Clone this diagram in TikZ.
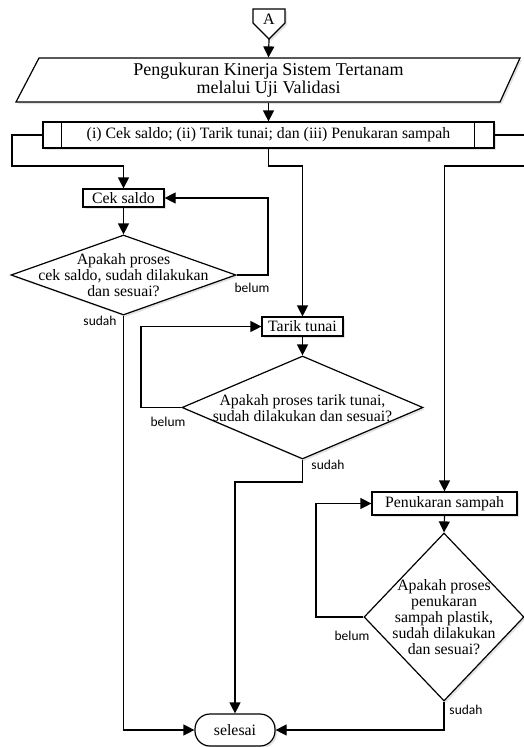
\documentclass[tikz,border=0pt]{standalone}
\usepackage{fontspec}
\setmainfont{Liberation Serif}
\newfontfamily\labfont{Carlito}
\usetikzlibrary{shapes.geometric,arrows.meta,shadows}
\begin{document}
\begin{tikzpicture}[x=1pt,y=-1pt,
  line width=1.2pt,
  shad/.style={drop shadow={shadow xshift=2pt,shadow yshift=-2pt,fill=black!18,opacity=0.6}},
  box/.style={draw,fill=white,shad,inner sep=1pt,font=\fontsize{15.8}{18}\selectfont},
  dia/.style={draw,fill=white,shad,diamond,inner sep=0pt},
  dtext/.style={align=center,inner sep=0pt,font=\fontsize{15.8}{16}\selectfont},
  lab/.style={font=\labfont\fontsize{13.5}{14}\selectfont,inner sep=0pt},
  arr/.style={-{Triangle[length=11pt,width=11pt]}}]
\useasboundingbox (0,0) rectangle (524,747);

% off-page connector A
\draw[fill=white,shad] (253,9) -- (285,9) -- (285,23) -- (269,39) -- (253,23) -- cycle;
\node[font=\fontsize{16}{18}\selectfont,inner sep=0pt] (A) at (269,19) {A};
\coordinate (Atip) at (269,39);

% parallelogram
\draw[fill=white,shad] (39,58) -- (520,58) -- (500,102) -- (16,102) -- cycle;
\node[align=center,minimum width=440,minimum height=44,inner sep=0pt,
      font=\fontsize{18}{18}\selectfont] (P) at (268.5,80)
  {Pengukuran Kinerja Sistem Tertanam\\melalui Uji Validasi};

% predefined process
\node[box,minimum width=451,minimum height=26] (pp) at (268.5,135)
  {(i) Cek saldo; (ii) Tarik tunai; dan (iii) Penukaran sampah};
\draw ([xshift=19pt]pp.north west) -- ([xshift=19pt]pp.south west);
\draw ([xshift=-20pt]pp.north east) -- ([xshift=-20pt]pp.south east);

% cek saldo
\node[box,minimum width=81,minimum height=18] (cek) at (123.5,198) {Cek saldo};
\node[dia,minimum width=225,minimum height=80] (d1) at (123.5,275) {};
\node[dtext] (d1t) at (123.5,275) {Apakah proses\\cek saldo, sudah dilakukan\\dan sesuai?};

% tarik tunai
\node[box,minimum width=81,minimum height=19] (tarik) at (302.5,326.5) {Tarik tunai};
\node[dia,minimum width=241,minimum height=103] (d2) at (302.5,407.5) {};
\node[dtext] (d2t) at (302.5,408) {Apakah proses tarik tunai,\\sudah dilakukan dan sesuai?};

% penukaran sampah
\node[box,minimum width=145,minimum height=23] (pen) at (444.5,503.5) {Penukaran sampah};
\node[dia,minimum width=160,minimum height=168] (d3) at (444,617) {};
\node[dtext] (d3t) at (444,617.5) {Apakah proses\\penukaran\\sampah plastik,\\sudah dilakukan\\dan sesuai?};

% selesai
\node[box,rounded corners=15pt,minimum width=80,minimum height=32] (sel) at (235,730) {selesai};

% connectors
\draw[arr] (Atip) -- (P.north);
\draw[arr] (P.south) -- (pp.north);
\draw[arr] (pp.west) -- (12,135) -- (12,166) -- (123.5,166) -- (cek.north);
\draw[arr] (pp.south) -- (268.5,166) -- (302.5,166) -- (tarik.north);
\draw[arr] (pp.east) -- (526,135) -- (526,166) -- (444.5,166) -- (pen.north);

\draw[arr] (cek.south) -- (d1.north);
\draw[arr] (d1.east) -- (268,275) -- (268,198) -- (cek.east);
\draw[arr] (d1.south) -- (123.5,730) -- (sel.west);

\draw[arr] (tarik.south) -- (d2.north);
\draw[arr] (d2.west) -- (141,407.5) -- (141,326.5) -- (tarik.west);
\draw[arr] (d2.south) -- (302.5,482) -- (235,482) -- (sel.north);

\draw[arr] (pen.south) -- (d3.north);
\draw[arr] (d3.west) -- (316,617) -- (316,503.5) -- (pen.west);
\draw[arr] (d3.south) -- (444,730) -- (sel.east);

% labels
\node[lab] (b1) at (252,288) {belum};
\node[lab] (s1) at (100,321) {sudah};
\node[lab] (b2) at (168,422) {belum};
\node[lab] (s2) at (328,465) {sudah};
\node[lab] (b3) at (352,636) {belum};
\node[lab] (s3) at (466,710) {sudah};
\end{tikzpicture}
\end{document}
